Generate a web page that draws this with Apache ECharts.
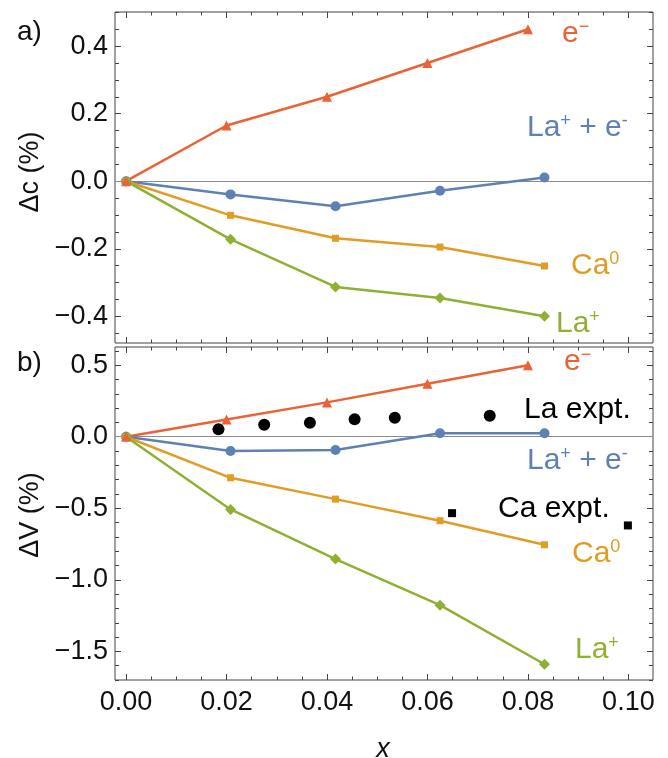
<!DOCTYPE html>
<html>
<head>
<meta charset="utf-8">
<script src="https://cdn.jsdelivr.net/npm/echarts@6/dist/echarts.min.js"></script>
<style>
html,body{margin:0;padding:0;background:#fff;}
#chart{width:668px;height:758px;}
</style>
</head>
<body>
<div id="chart"></div>
<script>
// ---- data ----
const xElectron = [0, 0.02, 0.04, 0.06, 0.08];
const xDefect = [0, 0.0208, 0.0417, 0.0625, 0.0833];

// panel a) Δc (%)
const dcElectron = [0, 0.165, 0.25, 0.35, 0.45];
const dcLaE = [0, -0.039, -0.074, -0.028, 0.011];
const dcCa0 = [0, -0.101, -0.169, -0.195, -0.251];
const dcLa = [0, -0.172, -0.313, -0.346, -0.40];

// panel b) ΔV (%)
const dvElectron = [0, 0.12, 0.24, 0.37, 0.50];
const dvLaE = [0, -0.10, -0.093, 0.024, 0.024];
const dvCa0 = [0, -0.287, -0.436, -0.587, -0.755];
const dvLa = [0, -0.508, -0.855, -1.177, -1.59];

const laExptX = [0.0184, 0.0275, 0.0366, 0.0455, 0.0535, 0.0724];
const laExptY = [0.052, 0.084, 0.098, 0.122, 0.133, 0.147];
const caExptX = [0.0649, 0.0999];
const caExptY = [-0.534, -0.62];

// ticks
const xMajor = [0, 0.02, 0.04, 0.06, 0.08, 0.10];
const yMajorA = [-0.4, -0.2, 0, 0.2, 0.4];
const yMajorB = [-1.5, -1.0, -0.5, 0, 0.5];

function range(a, b, step) {
  const out = [];
  const n = Math.round((b - a) / step);
  for (let i = 0; i <= n; i++) out.push(+(a + i * step).toFixed(6));
  return out;
}
const xMinor = range(0, 0.10, 0.005);
const yMinorA = range(-0.45, 0.50, 0.05);
const yMinorB = range(-1.7, 0.6, 0.1);

const C = {
  blue: '#5E81B5',
  orange: '#E19C24',
  green: '#8FB032',
  red: '#EB6235',
  frame: '#444444'
};
const FONT = '"Liberation Sans", Arial, Helvetica, sans-serif';

const xRange = {min: -0.0022, max: 0.1049};
const yRangeA = {min: -0.479, max: 0.501};
const yRangeB = {min: -1.70, max: 0.627};

function fmtNum(v, d) {
  const s = Math.abs(v).toFixed(d);
  return (v < -1e-9 ? '\u2212' : '') + s;
}

function pairs(xs, ys) { return xs.map((x, i) => [x, ys[i]]); }

const xAxes = [];
const yAxes = [];
function addX(grid, pos, ticks, len, labels) {
  xAxes.push({
    type: 'value', gridIndex: grid, position: pos,
    min: xRange.min, max: xRange.max,
    axisLine: {show: false, onZero: false},
    splitLine: {show: false},
    axisTick: {show: true, inside: true, length: len, customValues: ticks,
      lineStyle: {color: C.frame, width: 1}},
    axisLabel: labels ? {show: true, customValues: ticks, margin: 9,
      fontSize: 27, fontFamily: FONT, color: '#111',
      formatter: v => fmtNum(v, 2)} : {show: false}
  });
}
function addY(grid, pos, range, ticks, len, labels) {
  yAxes.push({
    type: 'value', gridIndex: grid, position: pos,
    min: range.min, max: range.max,
    axisLine: {show: false, onZero: false},
    splitLine: {show: false},
    axisTick: {show: true, inside: true, length: len, customValues: ticks,
      lineStyle: {color: C.frame, width: 1}},
    axisLabel: labels ? {show: true, customValues: ticks, margin: 7,
      fontSize: 27, fontFamily: FONT, color: '#111',
      formatter: v => fmtNum(v, 1)} : {show: false}
  });
}
// grid 0 (top), grid 1 (bottom)
addX(0, 'bottom', xMajor, 6, false); // 0
addX(0, 'bottom', xMinor, 3.5, false); // 1
addX(0, 'top', xMajor, 6, false); // 2
addX(0, 'top', xMinor, 3.5, false); // 3
addX(1, 'bottom', xMajor, 6, true); // 4
addX(1, 'bottom', xMinor, 3.5, false); // 5
addX(1, 'top', xMajor, 6, false); // 6
addX(1, 'top', xMinor, 3.5, false); // 7

addY(0, 'left', yRangeA, yMajorA, 6, true); // 0
addY(0, 'left', yRangeA, yMinorA, 4, false); // 1
addY(0, 'right', yRangeA, yMajorA, 6, false); // 2
addY(0, 'right', yRangeA, yMinorA, 4, false); // 3
addY(1, 'left', yRangeB, yMajorB, 6, true); // 4
addY(1, 'left', yRangeB, yMinorB, 4, false); // 5
addY(1, 'right', yRangeB, yMajorB, 6, false); // 6
addY(1, 'right', yRangeB, yMinorB, 4, false); // 7

function lineSeries(xi, yi, xs, ys, color, symbol, size, zeroLine) {
  const s = {
    type: 'line', xAxisIndex: xi, yAxisIndex: yi,
    data: pairs(xs, ys),
    symbol: symbol, symbolSize: size, showAllSymbol: true,
    lineStyle: {color: color, width: 2.5},
    itemStyle: {color: color, borderWidth: 0, opacity: 1},
    animation: false, z: 3
  };
  if (zeroLine) {
    s.markLine = {
      silent: true, symbol: 'none', label: {show: false},
      lineStyle: {color: '#8c8c8c', width: 1, type: 'solid'},
      data: [{yAxis: 0}], z: 1
    };
  }
  return s;
}

const series = [
  lineSeries(0, 0, xDefect, dcLaE, C.blue, 'circle', 10, true),
  lineSeries(0, 0, xDefect, dcCa0, C.orange, 'rect', 7, false),
  lineSeries(0, 0, xDefect, dcLa, C.green, 'diamond', 11, false),
  lineSeries(0, 0, xElectron, dcElectron, C.red, 'triangle', 10, false),
  lineSeries(4, 4, xDefect, dvLaE, C.blue, 'circle', 10, true),
  lineSeries(4, 4, xDefect, dvCa0, C.orange, 'rect', 7, false),
  lineSeries(4, 4, xDefect, dvLa, C.green, 'diamond', 11, false),
  lineSeries(4, 4, xElectron, dvElectron, C.red, 'triangle', 10, false),
  {type: 'scatter', xAxisIndex: 4, yAxisIndex: 4, data: pairs(laExptX, laExptY),
   symbol: 'circle', symbolSize: 12, itemStyle: {color: '#000', opacity: 1}, animation: false, z: 4},
  {type: 'scatter', xAxisIndex: 4, yAxisIndex: 4, data: pairs(caExptX, caExptY),
   symbol: 'rect', symbolSize: 8, itemStyle: {color: '#000', opacity: 1}, animation: false, z: 4}
];

const big = 30, sup = 18;
function rich(color) {
  return {
    n: {fontSize: big, fontFamily: FONT, fill: color},
    s: {fontSize: sup, fontFamily: FONT, fill: color, padding: [0, 0, 14, 0]}
  };
}
function plain(x, y, text, color, size, extra) {
  return {
    type: 'text', x: x, y: y,
    style: Object.assign({text: text, fill: color, fontSize: size, fontFamily: FONT,
      align: 'left', verticalAlign: 'middle'}, extra || {}),
    z: 10
  };
}
function richAt(x, y, text, color) {
  return {
    type: 'text', x: x, y: y,
    style: {text: text, rich: rich(color), fill: color, fontSize: big, fontFamily: FONT,
      align: 'left', verticalAlign: 'middle'},
    z: 10
  };
}

const graphics = [
  // panel a labels
  richAt(562, 34, '{n|e}{s|\u2212}', C.red),
  richAt(527, 128, '{n|La}{s|+}{n| + e}{s|-}', C.blue),
  richAt(571, 266, '{n|Ca}{s|0}', C.orange),
  richAt(556, 324, '{n|La}{s|+}', C.green),
  // panel b labels
  richAt(564, 362, '{n|e}{s|\u2212}', C.red),
  plain(524, 410, 'La expt.', '#000', big),
  richAt(527, 461, '{n|La}{s|+}{n| + e}{s|-}', C.blue),
  plain(498, 509, 'Ca expt.', '#000', big),
  richAt(572, 554, '{n|Ca}{s|0}', C.orange),
  richAt(575, 650, '{n|La}{s|+}', C.green),
  // panel tags
  plain(17, 32, 'a)', '#111', 28),
  plain(17, 363, 'b)', '#111', 28),
  // axis titles
  {type: 'text', x: 31, y: 172, rotation: Math.PI / 2,
   style: {text: '\u0394c (%)', fill: '#111', fontSize: 27, fontFamily: FONT,
     align: 'center', verticalAlign: 'middle'}, z: 10},
  {type: 'text', x: 31, y: 515, rotation: Math.PI / 2,
   style: {text: '\u0394V (%)', fill: '#111', fontSize: 27, fontFamily: FONT,
     align: 'center', verticalAlign: 'middle'}, z: 10},
  {type: 'text', x: 383, y: 749,
   style: {text: 'x', fill: '#111', fontSize: 27, fontFamily: FONT, fontStyle: 'italic',
     align: 'center', verticalAlign: 'middle'}, z: 10}
];

const chart = echarts.init(document.getElementById('chart'), null, {renderer: 'canvas'});
chart.setOption({
  backgroundColor: '#fff',
  animation: false,
  grid: [
    {left: 115, top: 12, width: 538, height: 331, show: true, borderColor: C.frame, borderWidth: 1, backgroundColor: 'transparent'},
    {left: 115, top: 347, width: 538, height: 333, show: true, borderColor: C.frame, borderWidth: 1, backgroundColor: 'transparent'}
  ],
  xAxis: xAxes,
  yAxis: yAxes,
  series: series,
  graphic: graphics
});
</script>
</body>
</html>
